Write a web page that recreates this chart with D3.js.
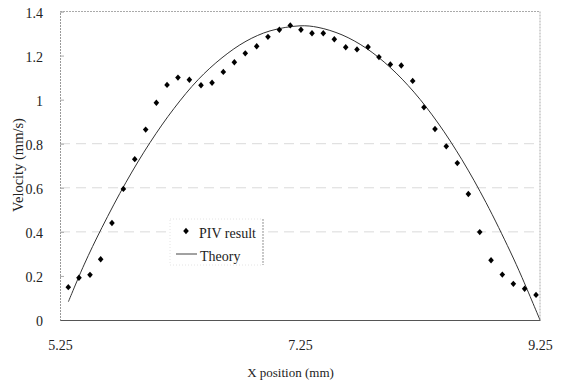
<!DOCTYPE html>
<html><head><meta charset="utf-8">
<script src="https://cdn.jsdelivr.net/npm/d3@7/dist/d3.min.js"></script>
<style>
html,body{margin:0;padding:0;background:#fff;}
svg{display:block;}
</style></head>
<body>
<svg id="chart" width="564" height="382"></svg>
<script>
// ---- data ----
const pivX = [5.319,5.408,5.500,5.589,5.683,5.778,5.873,5.964,6.053,6.142,6.233,6.328,6.425,6.517,6.611,6.703,6.794,6.889,6.983,7.078,7.169,7.258,7.350,7.444,7.536,7.631,7.725,7.817,7.908,8.003,8.094,8.189,8.283,8.375,8.469,8.561,8.653,8.748,8.842,8.936,9.028,9.122,9.217];
const pivY = [0.149,0.192,0.205,0.276,0.440,0.595,0.730,0.864,0.986,1.067,1.100,1.090,1.065,1.077,1.126,1.170,1.210,1.242,1.285,1.317,1.337,1.317,1.301,1.301,1.274,1.238,1.228,1.239,1.193,1.160,1.155,1.085,0.965,0.867,0.788,0.712,0.572,0.399,0.271,0.206,0.164,0.142,0.114];
const theoryX = [5.32,5.45,5.60,5.80,6.00,6.20,6.40,6.60,6.80,7.00,7.25,7.40,7.60,7.80,8.00,8.20,8.40,8.60,8.80,9.00,9.10,9.25];
const theoryY = [0.083,0.25,0.42,0.625,0.805,0.96,1.09,1.19,1.265,1.312,1.335,1.328,1.294,1.234,1.147,1.034,0.894,0.727,0.533,0.313,0.193,0.0];
const xTicks = [5.25,7.25,9.25];
const xTickLabels = ["5.25","7.25","9.25"];
const yTicks = [0,0.2,0.4,0.6,0.8,1,1.2,1.4];
const yTickLabels = ["0","0.2","0.4","0.6","0.8","1","1.2","1.4"];
const gridValues = [0.4,0.6,0.8];
const legendLabels = ["PIV result","Theory"];
const xTitle = "X position (mm)";
const yTitle = "Velocity (mm/s)";

const FONT = "'Liberation Serif', 'Times New Roman', serif";

// ---- layout ----
const svg = d3.select("#chart");
const L = 60, R = 540, T = 11.5, B = 320;
const x = d3.scaleLinear().domain([5.25,9.25]).range([L,R]);
const y = d3.scaleLinear().domain([0,1.4]).range([B,T]);

// gridlines
svg.append("g").selectAll("line").data(gridValues).join("line")
  .attr("x1",L).attr("x2",R).attr("y1",d=>y(d)).attr("y2",d=>y(d))
  .attr("stroke","#dadada").attr("stroke-width",1).attr("stroke-dasharray","10,6");

// frame: top, right dotted grey
svg.append("line").attr("x1",L).attr("x2",R).attr("y1",T).attr("y2",T)
  .attr("stroke","#aaa").attr("stroke-dasharray","2,1");
svg.append("line").attr("x1",R).attr("x2",R).attr("y1",T).attr("y2",B)
  .attr("stroke","#aaa").attr("stroke-dasharray","2,1");

// y axis
const yAxis = d3.axisLeft(y).tickValues(yTicks).tickFormat((d,i)=>yTickLabels[i]).tickSize(-4).tickPadding(17);
const gy = svg.append("g").attr("transform",`translate(${L},0)`).call(yAxis);
gy.select(".domain").attr("stroke","#999").attr("stroke-dasharray","2,1");
gy.selectAll(".tick line").attr("stroke","#aaa");
gy.selectAll(".tick text").style("font-family",FONT).style("font-size","14px").attr("fill","#222").attr("dy","0.4em");

// x axis
const xAxis = d3.axisBottom(x).tickValues(xTicks).tickFormat((d,i)=>xTickLabels[i]).tickSize(0).tickPadding(20);
const gx = svg.append("g").attr("transform",`translate(0,${B})`).call(xAxis);
gx.select(".domain").attr("stroke","#555").attr("stroke-width",1);
gx.selectAll(".tick text").style("font-family",FONT).style("font-size","14px").attr("fill","#222");

// titles
svg.append("text").attr("x",290.5).attr("y",377).attr("text-anchor","middle")
  .style("font-family",FONT).style("font-size","13px").attr("fill","#222").text(xTitle);
svg.append("text").attr("transform","translate(23,165) rotate(-90)").attr("text-anchor","middle")
  .style("font-family",FONT).style("font-size","14.5px").attr("fill","#222").text(yTitle);

// theory line
const pts = theoryX.map((v,i)=>[v,theoryY[i]]);
svg.append("path").datum(pts)
  .attr("d",d3.line().x(d=>x(d[0])).y(d=>y(d[1])).curve(d3.curveCatmullRom))
  .attr("fill","none").attr("stroke","#333").attr("stroke-width",1);

// PIV markers
const diamond = "M0,-3.2L2.8,0L0,3.2L-2.8,0Z";
svg.append("g").selectAll("path").data(pivX.map((v,i)=>[v,pivY[i]])).join("path")
  .attr("d",diamond).attr("transform",d=>`translate(${x(d[0])},${y(d[1])})`)
  .attr("fill","#000");

// legend
const lg = svg.append("g");
lg.append("rect").attr("x",170).attr("y",219).attr("width",93).attr("height",46)
  .attr("fill","#fff").attr("stroke","#e4e4e4").attr("stroke-dasharray","1,2");
lg.append("line").attr("x1",263).attr("x2",263).attr("y1",219).attr("y2",265)
  .attr("stroke","#999").attr("stroke-dasharray","2,1");
lg.append("path").attr("d",diamond).attr("transform","translate(186,231)").attr("fill","#000");
lg.append("line").attr("x1",176).attr("x2",197).attr("y1",254).attr("y2",254)
  .attr("stroke","#444").attr("stroke-width",1);
lg.append("text").attr("x",199).attr("y",238).style("font-family",FONT).style("font-size","14px").attr("fill","#222").text(legendLabels[0]);
lg.append("text").attr("x",200).attr("y",261).style("font-family",FONT).style("font-size","14px").attr("fill","#222").text(legendLabels[1]);
</script>
</body></html>
